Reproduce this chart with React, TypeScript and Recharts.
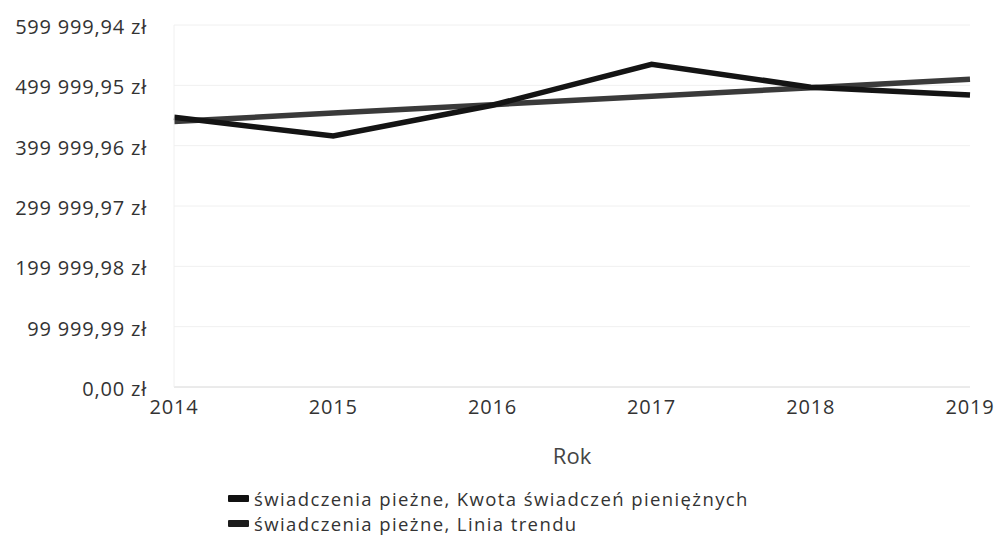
import React from 'react';
import { LineChart, Line, XAxis, YAxis, CartesianGrid, Legend } from 'recharts';

const years = ['2014', '2015', '2016', '2017', '2018', '2019'];
const kwota = [447000, 416000, 467000, 535000, 497000, 484000];
const trend = [440000, 454000, 468000, 482000, 496000, 510000];
const yTicks = [0, 99999.99, 199999.98, 299999.97, 399999.96, 499999.95, 599999.94];
const seriesNames = ['świadczenia pieżne, Kwota świadczeń pieniężnych', 'świadczenia pieżne, Linia trendu'];
const seriesColors = ['#141414', '#3a3a3a'];
const markerColors = ['#111111', '#1c1c1c'];

const data = years.map((y, i) => ({ year: y, kwota: kwota[i], trend: trend[i] }));

const fmt = (v: number) => {
  const [intPart, dec] = v.toFixed(2).split('.');
  const grouped = intPart.replace(/\B(?=(\d{3})+(?!\d))/g, ' ');
  return `${grouped},${dec} zł`;
};

const font = '"Open Sans", "Noto Sans", sans-serif';

const LegendContent = () => (
  <div style={{ fontFamily: font, fontSize: 18.5, letterSpacing: 1.4, color: '#333', lineHeight: '25px' }}>
    {seriesNames.map((n, i) => (
      <div key={n} style={{ display: 'flex', alignItems: 'center', whiteSpace: 'nowrap', height: 25 }}>
        <span style={{ display: 'inline-block', width: 21, height: 7, background: markerColors[i], marginRight: 5, borderRadius: 1 }} />
        <span>{n}</span>
      </div>
    ))}
  </div>
);

export default function App() {
  return (
    <div style={{ position: 'absolute', left: 0, top: 0, width: 997, height: 539, background: '#fff' }}>
      <LineChart width={997} height={539} data={data} margin={{ top: 25, right: 27, bottom: 72, left: 0 }}>
        <CartesianGrid vertical={false} stroke="#f0f0f0" />
        <XAxis
          dataKey="year"
          interval={0}
          tickLine={false}
          tickSize={0}
          tickMargin={13}
          axisLine={{ stroke: '#dedede' }}
          height={80}
          padding={{ left: 0, right: 0 }}
          tick={{ fill: '#333', fontSize: 20, fontFamily: font, letterSpacing: 0.8 }}
          label={{ value: 'Rok', position: 'insideTop', offset: 61, fill: '#444', fontSize: 22, fontFamily: font }}
        />
        <YAxis
          type="number"
          domain={[0, 599999.94]}
          ticks={yTicks}
          interval={0}
          width={174}
          tickLine={false}
          tickSize={0}
          tickMargin={27}
          axisLine={{ stroke: '#f0f0f0' }}
          tickFormatter={fmt}
          tick={{ fill: '#333', fontSize: 20, fontFamily: font, letterSpacing: 0.8, dy: 2 }}
        />
        <Legend
          layout="vertical"
          align="center"
          verticalAlign="middle"
          content={<LegendContent />}
          wrapperStyle={{ position: 'absolute', left: 228, top: 486, width: 700, height: 'auto' }}
        />
        <Line type="linear" dataKey="trend" name={seriesNames[1]} stroke={seriesColors[1]} strokeWidth={5.5} dot={false} activeDot={false} isAnimationActive={false} />
        <Line type="linear" dataKey="kwota" name={seriesNames[0]} stroke={seriesColors[0]} strokeWidth={5.5} dot={false} activeDot={false} isAnimationActive={false} />
      </LineChart>
    </div>
  );
}
